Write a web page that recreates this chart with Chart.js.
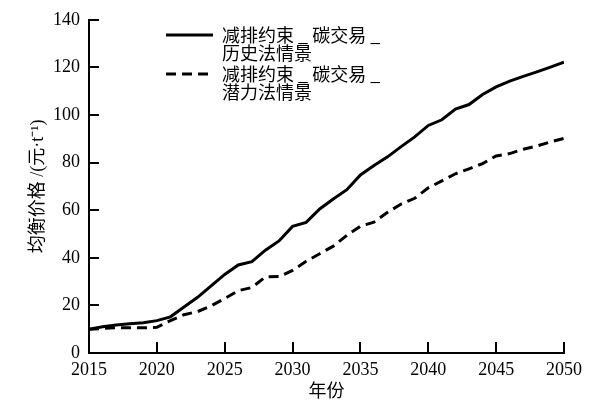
<!DOCTYPE html>
<html><head><meta charset="utf-8">
<script src="https://cdn.jsdelivr.net/npm/chart.js@4.4.1/dist/chart.umd.min.js"></script>
<style>html,body{margin:0;padding:0;background:#fff}#wrap{width:608px;height:417px}</style>
</head><body><div id="wrap"><canvas id="c" width="608" height="417"></canvas></div>
<script>
const years = [2015,2016,2017,2018,2019,2020,2021,2022,2023,2024,2025,2026,2027,2028,2029,2030,2031,2032,2033,2034,2035,2036,2037,2038,2039,2040,2041,2042,2043,2044,2045,2046,2047,2048,2049,2050];
const historicalMethod = [10,11,11.8,12.3,12.7,13.6,15.2,19.3,23.4,28.2,33,37,38.4,43.2,47.1,53.2,54.9,60.5,64.7,68.6,74.8,78.8,82.4,86.7,90.8,95.6,98,102.5,104.4,108.6,111.8,114.2,116.2,118.1,120.1,122.2];
const potentialMethod = [10,10.3,10.6,10.6,10.6,10.8,13.6,16.1,17.4,19.8,22.9,26.2,27.5,32,32.1,34.7,38.5,41.7,44.9,49.4,53.3,55,59.1,62.6,65,69.4,72.3,75.3,77.4,79.6,82.8,83.8,85.6,87,88.7,90.2];
const seriesLabels = [["减排约束 _ 碳交易 _","历史法情景"],["减排约束 _ 碳交易 _","潜力法情景"]];
const xTitle = "年份";
const yTitle = "均衡价格 /(元·t⁻¹)";
const xTicks = [2015,2020,2025,2030,2035,2040,2045,2050];
const yTicks = [0,20,40,60,80,100,120,140];

const serif = "'Liberation Serif','Noto Sans CJK SC',serif";
const cjk = "'Noto Sans CJK SC','Liberation Serif',sans-serif";

const inwardTicks = {
  id:'inwardTicks',
  afterDraw(chart){
    const ctx = chart.ctx, xs = chart.scales.x, ys = chart.scales.y, a = chart.chartArea;
    ctx.save(); ctx.strokeStyle='#000'; ctx.lineWidth=2;
    xs.ticks.forEach(t=>{ const px = Math.round(xs.getPixelForValue(t.value)); ctx.beginPath(); ctx.moveTo(px,a.bottom); ctx.lineTo(px,a.bottom-11); ctx.stroke(); });
    ys.ticks.forEach(t=>{ const py = Math.round(ys.getPixelForValue(t.value)); ctx.beginPath(); ctx.moveTo(a.left,py); ctx.lineTo(a.left+10,py); ctx.stroke(); });
    ctx.restore();
  }
};
const customLegend = {
  id:'customLegend',
  afterDraw(chart){
    const ctx = chart.ctx;
    ctx.save();
    const rows = [35, 74];
    chart.data.datasets.forEach((ds,i)=>{
      const y = rows[i];
      ctx.strokeStyle='#000'; ctx.lineWidth=3; ctx.setLineDash(ds.borderDash||[]);
      ctx.beginPath(); ctx.moveTo(166,y); ctx.lineTo(213,y); ctx.stroke();
      ctx.setLineDash([]);
      ctx.fillStyle='#000'; ctx.font = "18px "+cjk; ctx.textBaseline='middle'; ctx.textAlign='left';
      seriesLabels[i].forEach((line,j)=>{ ctx.fillText(line, 222, y + j*18.5); });
    });
    ctx.restore();
  }
};

new Chart(document.getElementById('c'), {
  type:'line',
  data:{
    datasets:[
      {data: years.map((x,i)=>({x, y: historicalMethod[i]})), borderColor:'#000', borderWidth:3, pointRadius:0, tension:0, fill:false},
      {data: years.map((x,i)=>({x, y: potentialMethod[i]})), borderColor:'#000', borderWidth:3, borderDash:[10,6], pointRadius:0, tension:0, fill:false}
    ]
  },
  options:{
    responsive:false, animation:false, devicePixelRatio:1,
    layout:{padding:{left:0,right:44,top:18,bottom:0}},
    plugins:{legend:{display:false}, tooltip:{enabled:false}},
    scales:{
      x:{type:'linear', min:2015, max:2050,
        afterBuildTicks(s){ s.ticks = xTicks.map(v=>({value:v})); },
        afterFit(s){ s.height = 64; },
        grid:{display:false, drawTicks:false},
        border:{display:true, color:'#000', width:2},
        ticks:{color:'#000', padding:6, maxRotation:0, autoSkip:false, font:{family:serif, size:18}, callback:v=>String(v)},
        title:{display:true, text:xTitle, color:'#000', font:{family:cjk, size:18}, padding:{top:0,bottom:16}}
      },
      y:{min:0, max:140,
        afterBuildTicks(s){ s.ticks = yTicks.map(v=>({value:v})); },
        afterFit(s){ s.width = 89; },
        grid:{display:false, drawTicks:false},
        border:{display:true, color:'#000', width:2},
        ticks:{color:'#000', padding:9, font:{family:serif, size:18}},
        title:{display:true, text:yTitle, color:'#000', font:{family:serif, size:18}, padding:{top:27,bottom:0}}
      }
    }
  },
  plugins:[inwardTicks, customLegend]
});
</script></body></html>
